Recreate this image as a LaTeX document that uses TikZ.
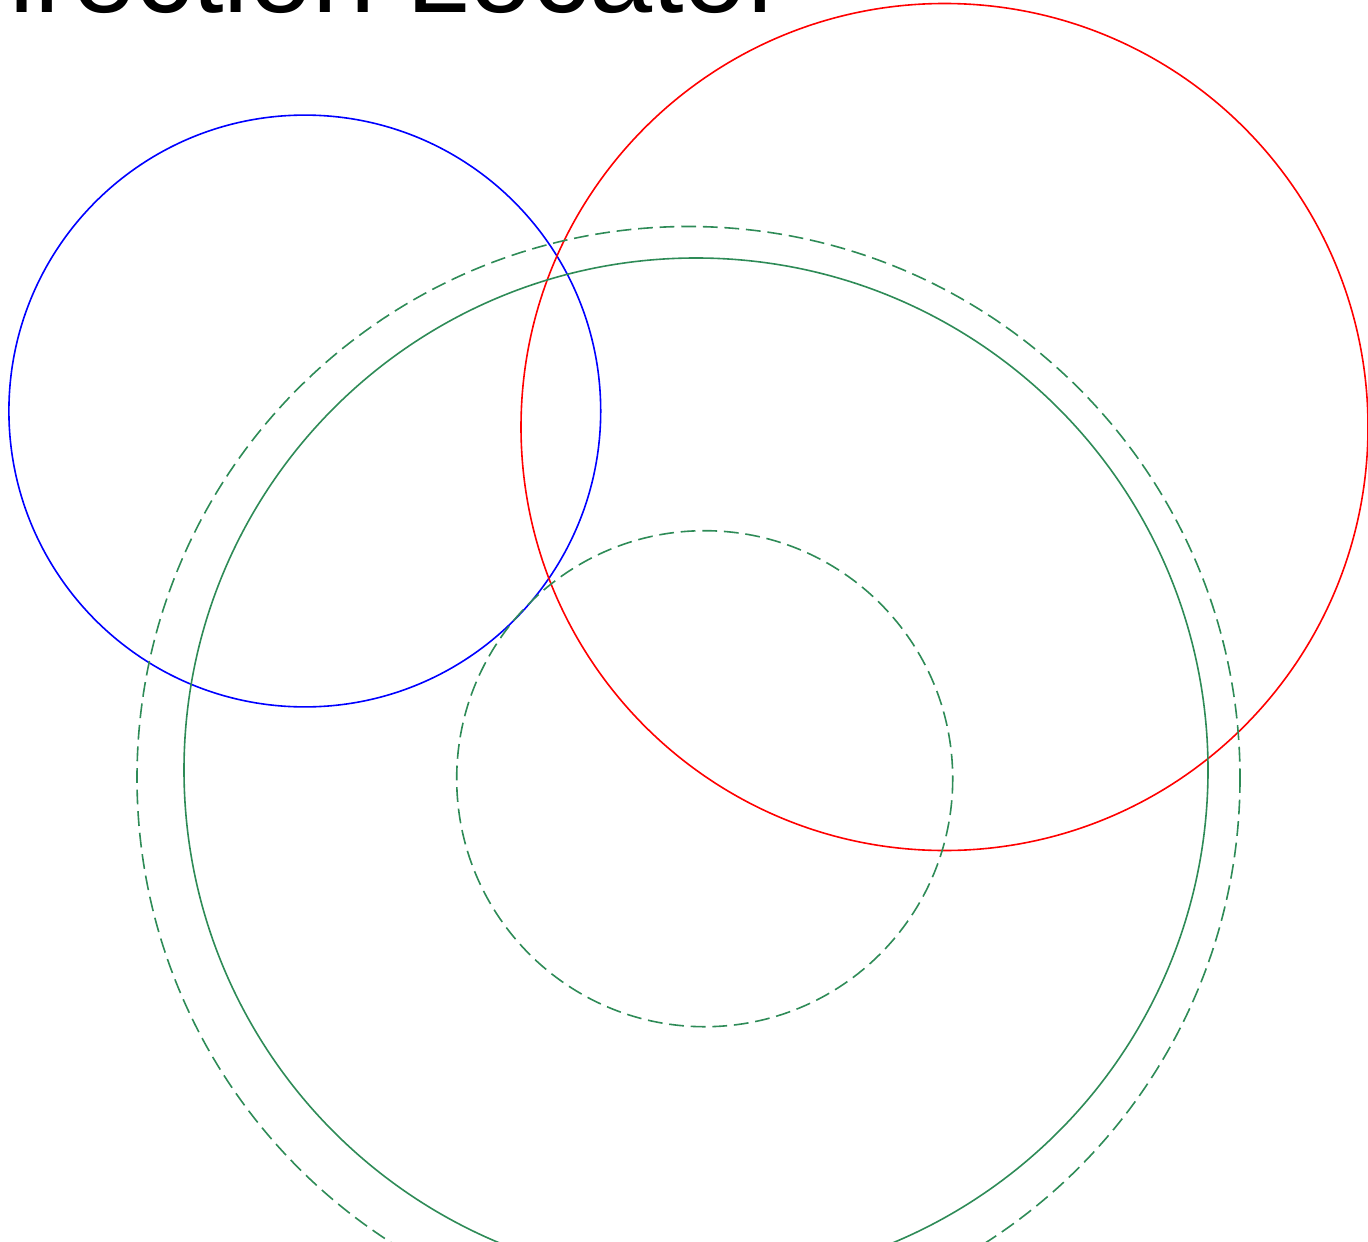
\documentclass[tikz,border=0pt]{standalone}
\usepackage{fontspec}
\setmainfont{Liberation Sans}
\definecolor{locgreen}{RGB}{46,139,87}
\begin{document}
\begin{tikzpicture}[x=0.5pt, y=-0.5pt, line width=0.8pt,
  ring/.style={draw=locgreen},
  dashring/.style={draw=locgreen, dash pattern=on 7.4pt off 3.4pt}]
  \useasboundingbox (0,0) rectangle (1368,1241);
  \clip (0,0) rectangle (1368,1241);
  \node[font=\fontsize{56.7}{60}\selectfont, anchor=base west, inner sep=0pt] (title) at (-73,13) {Direction Locator};
  % blue and red circles
  \draw[blue] (304.8,411) circle (295.9);
  \draw[red] (944.5,427) circle (423.5);
  % green rings
  \draw[dashring] (688.5,778) circle (551.5);
  \draw[ring] (696,770) circle (512);
  \draw[dashring] (704.7,778.7) circle (248);
\end{tikzpicture}
\end{document}
